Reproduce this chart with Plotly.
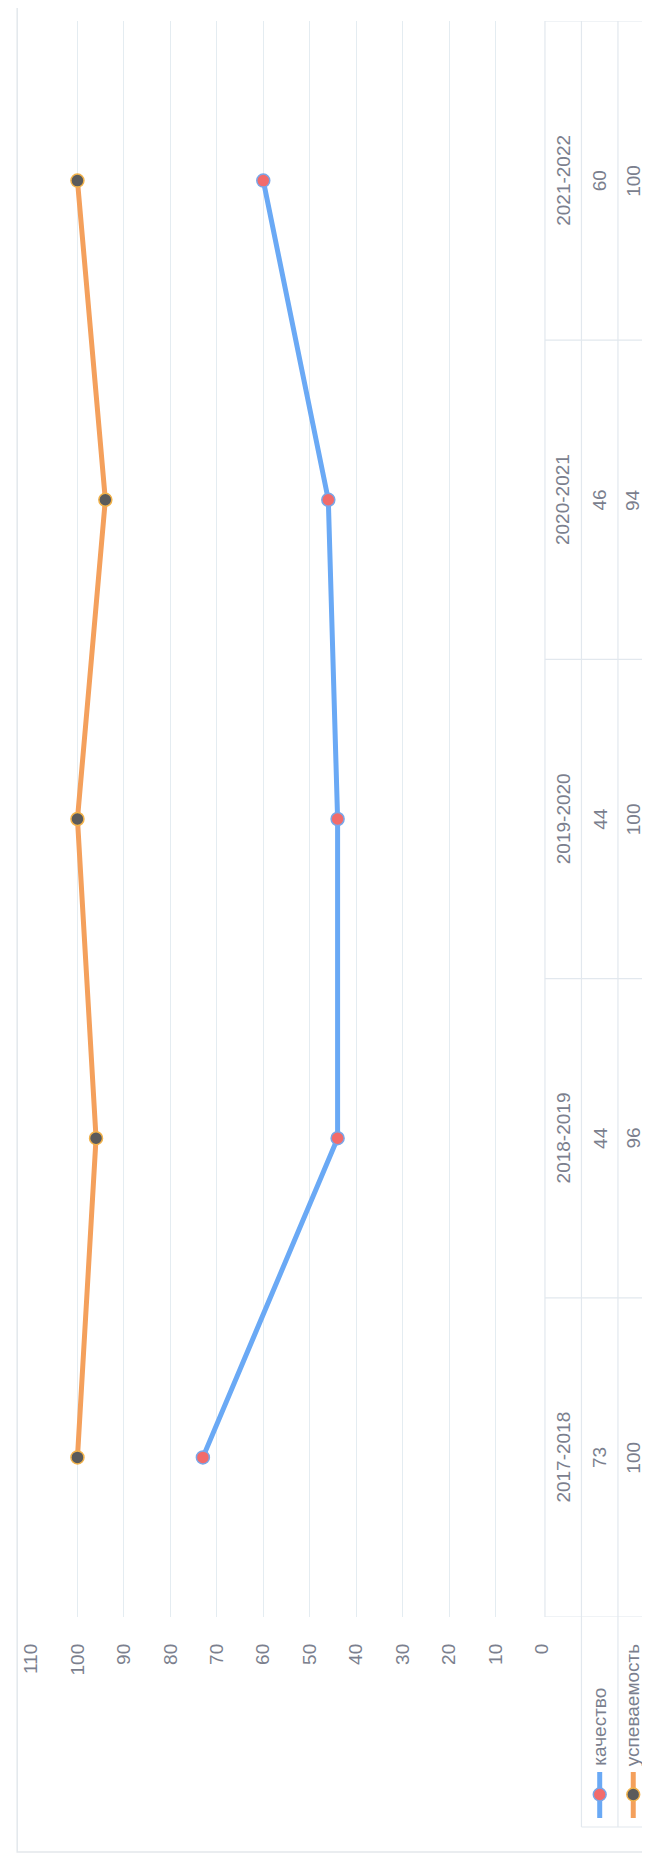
import plotly.graph_objects as go

# ---- data ----
years = ["2017-2018", "2018-2019", "2019-2020", "2020-2021", "2021-2022"]
kachestvo = [73, 44, 44, 46, 60]
uspevaemost = [100, 96, 100, 94, 100]
series_names = ["качество", "успеваемость"]
value_ticks = [0, 10, 20, 30, 40, 50, 60, 70, 80, 90, 100, 110]

# page offset of the plotly div (default body margin)
OFF = 8
W, H = 650 - OFF, 1857 - OFF
# plot area in page pixels
PL, PR, PT, PB = 24, 542, 21, 1617
L, R, T, B = PL - OFF, PR - OFF, PT - OFF, PB - OFF

TXT = "#7b7f8e"
GRID = "#e4ecf1"
TBL = "#e2e8ee"
BLUE = "#6aa9f5"
ORANGE = "#f4a05c"
FONT = "Liberation Sans"


def xp(px):
    """page pixel x -> paper fraction"""
    return (px - PL) / (PR - PL)


def yp(py):
    """page pixel y -> paper fraction"""
    return (PB - py) / (PB - PT)


fig = go.Figure()
fig.add_trace(go.Scatter(
    x=kachestvo, y=years, mode="lines+markers", name=series_names[0],
    line=dict(color=BLUE, width=5),
    marker=dict(size=13, color="#f26b6b", line=dict(color="#79a6e8", width=1.5)),
    cliponaxis=False, showlegend=False))
fig.add_trace(go.Scatter(
    x=uspevaemost, y=years, mode="lines+markers", name=series_names[1],
    line=dict(color=ORANGE, width=5),
    marker=dict(size=13, color="#5b5b5b", line=dict(color="#f2b24a", width=1.5)),
    cliponaxis=False, showlegend=False))

shapes = []
ann = []

# outer border
shapes.append(dict(type="rect", xref="paper", yref="paper",
                   x0=xp(10), x1=xp(660), y0=yp(1852), y1=yp(7),
                   line=dict(color="#e3e8ec", width=1.5), layer="below"))

# data table lines
col_x = [545, 582, 619, 656]
shapes.append(dict(type="line", xref="paper", yref="paper",
                   x0=xp(col_x[0]), x1=xp(col_x[0]), y0=yp(PB), y1=yp(PT),
                   line=dict(color=TBL, width=1.2)))
for cx in col_x[1:3]:
    shapes.append(dict(type="line", xref="paper", yref="paper",
                       x0=xp(cx), x1=xp(cx), y0=yp(1827), y1=yp(PT),
                       line=dict(color=TBL, width=1.2)))
n = len(years)
for i in range(n + 1):
    shapes.append(dict(type="line", xref="paper", yref="y",
                       x0=xp(col_x[0]), x1=xp(660), y0=i - 0.5, y1=i - 0.5,
                       line=dict(color=TBL, width=1.2)))
shapes.append(dict(type="line", xref="paper", yref="paper",
                   x0=xp(col_x[1]), x1=xp(660), y0=yp(1827), y1=yp(1827),
                   line=dict(color=TBL, width=1.2)))

# table texts
cx_cat = (col_x[0] + col_x[1]) / 2
cx_r1 = (col_x[1] + col_x[2]) / 2
cx_r2 = (col_x[2] + col_x[3]) / 2 - 3
for i, yr in enumerate(years):
    for cx, t in ((cx_cat, yr), (cx_r1, str(kachestvo[i])), (cx_r2, str(uspevaemost[i]))):
        ann.append(dict(x=xp(cx), xref="paper", y=yr, yref="y", text=t,
                        showarrow=False, textangle=-90,
                        xanchor="center", yanchor="middle",
                        font=dict(family=FONT, size=19, color=TXT)))

# legend keys in table row headers
for cx, name, col, mfill, mline in ((cx_r1, series_names[0], BLUE, "#f26b6b", "#79a6e8"),
                                    (cx_r2, series_names[1], ORANGE, "#5b5b5b", "#f2b24a")):
    shapes.append(dict(type="line", xref="paper", yref="paper",
                       x0=xp(cx), x1=xp(cx), y0=yp(1818), y1=yp(1772),
                       line=dict(color=col, width=5)))
    shapes.append(dict(type="circle", xref="paper", yref="paper",
                       x0=xp(cx - 6.5), x1=xp(cx + 6.5), y0=yp(1801), y1=yp(1788),
                       fillcolor=mfill, line=dict(color=mline, width=1.5)))
    ann.append(dict(x=xp(cx), xref="paper", y=yp(1768), yref="paper", text=name,
                    showarrow=False, textangle=-90,
                    xanchor="center", yanchor="bottom",
                    font=dict(family=FONT, size=19, color=TXT)))

fig.update_layout(
    width=W, height=H, autosize=False,
    margin=dict(l=L, r=W - R, t=T, b=H - B, pad=0),
    paper_bgcolor="white", plot_bgcolor="white",
    showlegend=False,
    shapes=shapes, annotations=ann,
    font=dict(family=FONT, size=19, color=TXT),
    xaxis=dict(range=[110, 0], tickmode="array", tickvals=value_ticks,
               ticktext=[str(v) for v in value_ticks],
               tickangle=-90, showgrid=True, gridcolor=GRID, gridwidth=1,
               zeroline=False, showline=False, ticks="",
               ticklabelstandoff=22,
               tickfont=dict(family=FONT, size=19, color=TXT)),
    yaxis=dict(type="category", categoryorder="array", categoryarray=years,
               range=[-0.5, n - 0.5], showticklabels=False, showgrid=False,
               zeroline=False, showline=False, ticks=""),
)

fig.write_html("out.html")
